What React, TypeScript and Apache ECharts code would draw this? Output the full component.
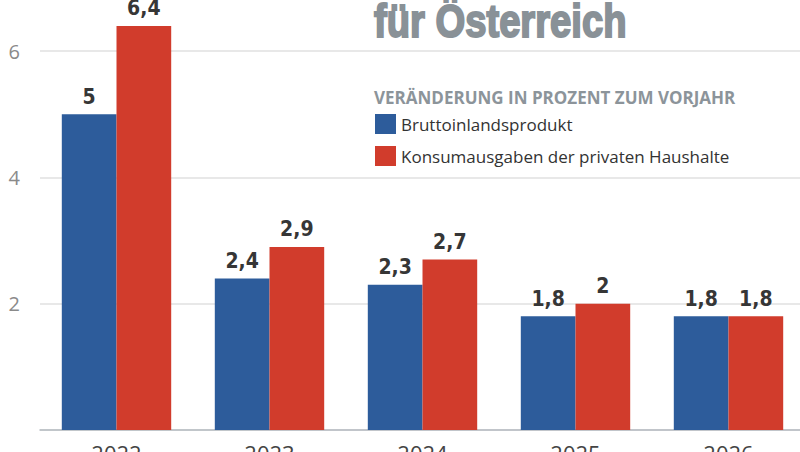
import React, { useEffect, useRef } from "react";
import * as echarts from "echarts";

const years = ["2022", "2023", "2024", "2025", "2026"];
const bip = [5, 2.4, 2.3, 1.8, 1.8];
const konsum = [6.4, 2.9, 2.7, 2, 1.8];
const seriesNames = ["Bruttoinlandsprodukt", "Konsumausgaben der privaten Haushalte"];
const titleText = "für Österreich";
const subtitleText = "VERÄNDERUNG IN PROZENT ZUM VORJAHR";

const BLUE = "#2d5c9b";
const RED = "#d13c2c";

export default function App() {
  const ref = useRef<HTMLDivElement>(null);
  useEffect(() => {
    if (!ref.current) return;
    const chart = echarts.init(ref.current, undefined, { renderer: "svg" });
    const label = {
      show: true,
      position: "top" as const,
      distance: 7,
      fontFamily: "'Liberation Sans Narrow', 'DejaVu Sans Condensed', sans-serif",
      fontWeight: "bold" as const,
      fontSize: 21,
      color: "#363636",
      formatter: (p: any) => String(p.value).replace(".", ","),
    };
    chart.setOption({
      animation: false,
      backgroundColor: "#ffffff",
      grid: {
        left: 40,
        right: -5,
        top: -12,
        bottom: 22,
        containLabel: false,
        outerBoundsMode: "none",
      },
      xAxis: {
        type: "category",
        data: years,
        axisLine: { show: true, lineStyle: { color: "#b4bac0", width: 1.5 } },
        axisTick: { show: false },
        axisLabel: {
          margin: 12,
          fontSize: 22,
          color: "#444",
          fontFamily: "'Open Sans', sans-serif",
        },
      },
      yAxis: {
        type: "value",
        min: 0,
        max: 7,
        interval: 2,
        axisLine: { show: false },
        axisTick: { show: false },
        axisLabel: {
          margin: 20,
          fontSize: 20,
          color: "#8a8a8a",
          fontFamily: "'Open Sans', sans-serif",
          formatter: (v: number) => (v === 0 || v % 2 !== 0 ? "" : String(v)),
        },
        splitLine: { show: true, lineStyle: { color: "#e8e8e8", width: 2 } },
      },
      legend: {
        orient: "vertical",
        left: 370,
        top: 109,
        itemWidth: 21,
        itemHeight: 20,
        itemGap: 12,
        icon: "rect",
        data: seriesNames,
        textStyle: {
          fontSize: 17,
          color: "#333",
          fontFamily: "'Open Sans', sans-serif",
        },
      },
      graphic: [
        {
          type: "text",
          x: 374,
          y: -2,
          scaleX: 0.83,
          style: {
            text: titleText,
            fontSize: 46,
            fontWeight: "bold",
            fontFamily: "'Liberation Sans', Arial, sans-serif",
            fill: "#899197",
            stroke: "#899197",
            lineWidth: 2,
            verticalAlign: "top",
          },
        },
        {
          type: "text",
          left: 374,
          top: 89,
          style: {
            text: subtitleText,
            fontSize: 17,
            fontWeight: "bold",
            fontFamily: "'Open Sans', sans-serif",
            fill: "#8c949a",
          },
        },
      ],
      series: [
        {
          name: seriesNames[0],
          type: "bar",
          data: bip,
          itemStyle: { color: BLUE },
          barGap: "0%",
          barCategoryGap: "28.5%",
          label,
        },
        {
          name: seriesNames[1],
          type: "bar",
          data: konsum,
          itemStyle: { color: RED },
          barGap: "0%",
          barCategoryGap: "28.5%",
          label,
        },
      ],
    });
    return () => chart.dispose();
  }, []);
  return (
    <div
      ref={ref}
      style={{ position: "fixed", left: 0, top: 0, width: 800, height: 452 }}
    />
  );
}
